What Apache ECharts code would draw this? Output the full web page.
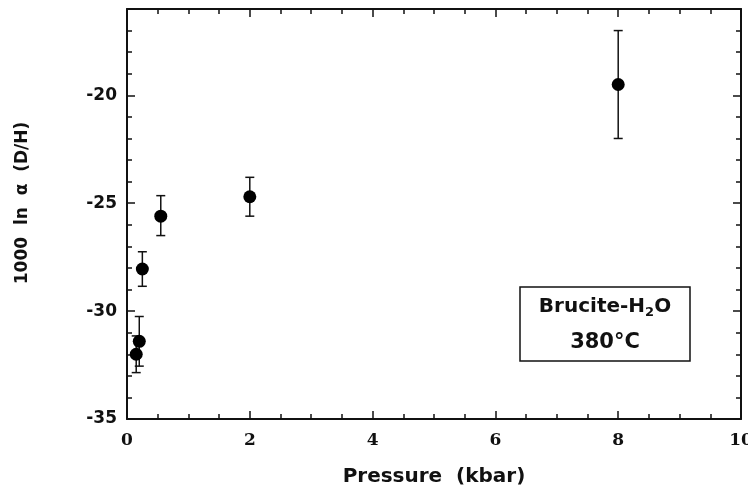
<!DOCTYPE html>
<html>
<head>
<meta charset="utf-8">
<script src="https://cdn.jsdelivr.net/npm/echarts@6/dist/echarts.min.js"></script>
<style>
  html, body { margin: 0; padding: 0; background: #ffffff; }
  #chart { width: 748px; height: 490px; }
</style>
</head>
<body>
<div id="chart"></div>
<script>
// D/H fractionation between brucite and water at 380 °C versus pressure
const pressureKbar = [0.15, 0.2, 0.25, 0.55, 2, 8];
const lnAlpha      = [-32.0, -31.4, -28.05, -25.6, -24.7, -19.5];
const errorUpper   = [-31.15, -30.25, -27.25, -24.65, -23.8, -17.0];
const errorLower   = [-32.85, -32.55, -28.85, -26.5, -25.6, -22.0];
const yTickLabels  = [-35, -30, -25, -20];

const ink = '#111111';
const chart = echarts.init(document.getElementById('chart'), null, { renderer: 'canvas' });

const frameLine = { show: true, lineStyle: { color: ink, width: 2 } };
const majorTick = { show: true, inside: true, length: 8, lineStyle: { color: ink, width: 1.5 } };
const minorTickShort = { show: true, inside: true, length: 5, lineStyle: { color: ink, width: 1.5 } };

const pointData = pressureKbar.map((p, i) => [p, lnAlpha[i]]);
const barData = pressureKbar.map((p, i) => [p, errorUpper[i], errorLower[i]]);

chart.setOption({
  animation: false,
  backgroundColor: '#ffffff',
  grid: { left: 127, right: 7, top: 9, bottom: 71, containLabel: false, outerBoundsMode: 'none' },
  xAxis: [
    {
      type: 'value', position: 'bottom', min: 0, max: 10, interval: 2,
      axisLine: frameLine, axisTick: majorTick,
      minorTick: { show: true, splitNumber: 4, length: 5, lineStyle: { color: ink, width: 1.5 } },
      splitLine: { show: false },
      axisLabel: { color: ink, fontFamily: 'DejaVu Serif', fontWeight: 'bold', fontSize: 17, margin: 13 },
      name: 'Pressure  (kbar)', nameLocation: 'middle', nameGap: 48,
      nameTextStyle: { color: ink, fontFamily: 'DejaVu Sans', fontWeight: 'bold', fontSize: 20 }
    },
    {
      type: 'value', position: 'top', min: 0, max: 10, interval: 2,
      axisLine: frameLine, axisTick: majorTick,
      minorTick: { show: true, splitNumber: 4, length: 5, lineStyle: { color: ink, width: 1.5 } },
      splitLine: { show: false }, axisLabel: { show: false }
    }
  ],
  yAxis: [
    {
      type: 'value', position: 'left', min: -35, max: -16, interval: 5,
      axisLine: frameLine, axisTick: majorTick, splitLine: { show: false },
      axisLabel: {
        color: ink, fontFamily: 'DejaVu Sans', fontWeight: 'bold', fontSize: 17, margin: 10,
        formatter: v => (yTickLabels.includes(v) ? String(v) : '')
      },
      name: '1000  ln  α  (D/H)', nameLocation: 'middle', nameGap: 96,
      nameTextStyle: { color: ink, fontFamily: 'DejaVu Sans', fontWeight: 'bold', fontSize: 17, padding: [0, 0, 0, 22] }
    },
    {
      type: 'value', position: 'left', min: -35, max: -16, interval: 1,
      axisLine: { show: false }, axisTick: minorTickShort, splitLine: { show: false }, axisLabel: { show: false }
    },
    {
      type: 'value', position: 'right', min: -35, max: -16, interval: 5,
      axisLine: frameLine, axisTick: majorTick, splitLine: { show: false }, axisLabel: { show: false }
    },
    {
      type: 'value', position: 'right', min: -35, max: -16, interval: 1,
      axisLine: { show: false }, axisTick: minorTickShort, splitLine: { show: false }, axisLabel: { show: false }
    }
  ],
  series: [
    {
      type: 'custom',
      name: 'uncertainty',
      xAxisIndex: 0, yAxisIndex: 0,
      data: barData,
      encode: { x: 0, y: [1, 2] },
      renderItem: (params, api) => {
        const x = api.value(0);
        const top = api.coord([x, api.value(1)]);
        const bot = api.coord([x, api.value(2)]);
        const cap = 4.5;
        const style = { stroke: ink, lineWidth: 1.5 };
        return {
          type: 'group',
          children: [
            { type: 'line', shape: { x1: top[0], y1: top[1], x2: bot[0], y2: bot[1] }, style },
            { type: 'line', shape: { x1: top[0] - cap, y1: top[1], x2: top[0] + cap, y2: top[1] }, style },
            { type: 'line', shape: { x1: bot[0] - cap, y1: bot[1], x2: bot[0] + cap, y2: bot[1] }, style }
          ]
        };
      },
      z: 2
    },
    {
      type: 'scatter',
      name: 'measured',
      xAxisIndex: 0, yAxisIndex: 0,
      data: pointData,
      symbol: 'circle', symbolSize: 13,
      itemStyle: { color: '#000000', opacity: 1 },
      z: 3
    }
  ],
  graphic: [
    {
      type: 'rect',
      shape: { x: 520, y: 287, width: 170, height: 74 },
      style: { fill: '#ffffff', stroke: ink, lineWidth: 1.5 },
      z: 10
    },
    {
      type: 'text',
      x: 605, y: 325,
      style: {
        text: '{b|Brucite-H}{s|2}{b|O}\n{c|380°C}',
        align: 'center', verticalAlign: 'middle',
        rich: {
          b: { fontFamily: 'DejaVu Sans', fontWeight: 'bold', fontSize: 20, lineHeight: 36, fill: ink },
          c: { fontFamily: 'DejaVu Sans', fontWeight: 'bold', fontSize: 21, lineHeight: 36, fill: ink },
          s: { fontFamily: 'DejaVu Sans', fontWeight: 'bold', fontSize: 13, lineHeight: 20, padding: [12, 0, 0, 0], fill: ink }
        }
      },
      z: 11
    }
  ]
});
</script>
</body>
</html>
